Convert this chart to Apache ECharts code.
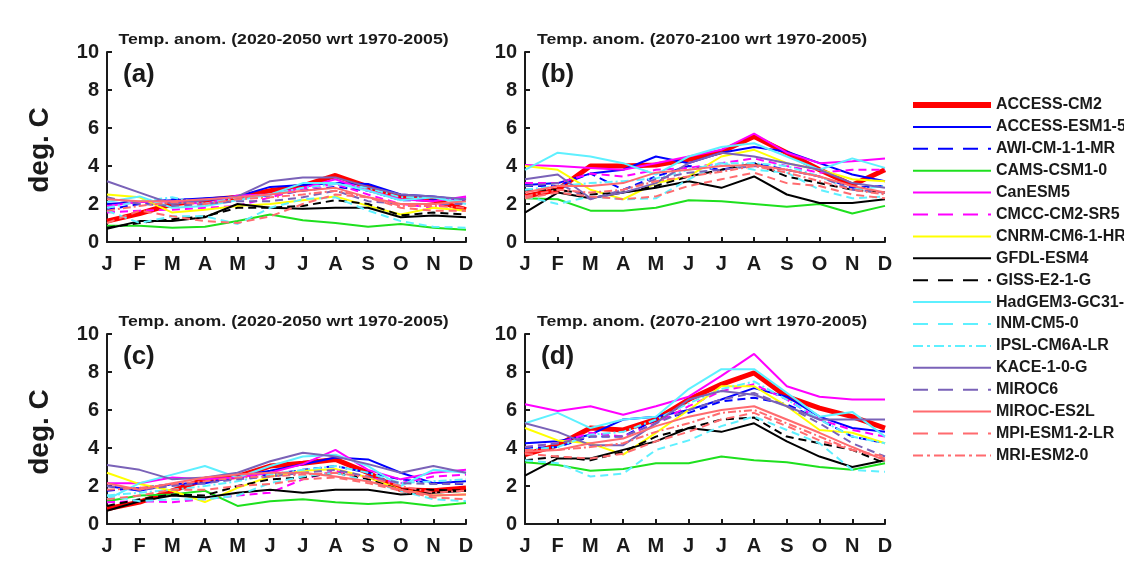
<!DOCTYPE html>
<html>
<head>
<meta charset="utf-8">
<script src="https://cdn.jsdelivr.net/npm/echarts@6/dist/echarts.min.js"></script>
<style>
  html, body { margin: 0; padding: 0; background: #fff; }
  #main { width: 1124px; height: 567px; }
</style>
</head>
<body>
<div id="main"></div>
<script>
// months (x axis)
var months = ["J","F","M","A","M","J","J","A","S","O","N","D"];
var yTicks = [0, 2, 4, 6, 8, 10];

// model names (legend order)
var models = ["ACCESS-CM2","ACCESS-ESM1-5","AWI-CM-1-1-MR","CAMS-CSM1-0","CanESM5","CMCC-CM2-SR5",
  "CNRM-CM6-1-HR","GFDL-ESM4","GISS-E2-1-G","HadGEM3-GC31-LL","INM-CM5-0","IPSL-CM6A-LR",
  "KACE-1-0-G","MIROC6","MIROC-ES2L","MPI-ESM1-2-LR","MRI-ESM2-0"];

// (a) 2020-2050, one row per model
var panelA = [
  [1.1,1.5,2.0,2.2,2.35,2.7,2.95,3.5,2.9,2.4,2.2,1.7],
  [2.0,2.1,2.2,2.3,2.4,2.9,3.0,3.1,3.05,2.5,2.4,2.2],
  [1.7,2.0,2.25,2.2,2.35,2.45,2.7,2.9,2.7,2.2,2.2,2.25],
  [0.85,0.85,0.75,0.8,1.1,1.45,1.15,1.0,0.8,0.95,0.75,0.65],
  [1.9,2.1,2.15,2.0,2.45,2.5,2.85,3.3,2.7,2.25,2.15,2.4],
  [1.55,1.65,1.7,1.8,1.9,2.35,2.8,3.05,2.5,2.0,1.8,2.35],
  [2.5,2.35,1.55,1.7,1.9,2.0,2.2,2.4,1.9,1.45,1.8,1.65],
  [0.7,1.1,1.1,1.3,2.0,1.8,1.75,1.8,1.8,1.3,1.4,1.3],
  [0.75,1.0,1.2,1.35,1.8,1.8,1.9,2.2,2.0,1.4,1.55,1.45],
  [2.1,2.4,1.8,1.9,2.2,2.5,3.1,3.1,2.7,2.2,2.35,2.0],
  [1.65,1.0,1.35,1.35,0.95,1.8,2.25,2.35,1.65,1.1,0.8,0.75],
  [1.8,2.15,2.35,2.0,2.35,2.5,2.85,3.05,2.85,2.35,2.35,2.15],
  [3.2,2.6,2.0,2.2,2.4,3.2,3.4,3.4,2.9,2.5,2.4,2.25],
  [2.35,2.0,1.9,2.0,2.15,2.15,2.35,2.7,2.15,2.0,2.0,2.0],
  [2.25,2.15,2.15,2.25,2.35,2.5,2.7,2.85,2.35,2.0,2.0,2.15],
  [1.0,1.65,1.35,1.1,1.0,1.35,2.0,2.5,2.35,1.8,1.65,1.65],
  [1.65,1.9,2.1,2.0,2.25,2.35,2.5,2.7,2.35,1.9,1.9,1.8]
];

// (b) 2070-2100
var panelB = [
  [2.4,2.75,4.0,4.0,4.05,4.35,4.75,5.55,4.7,3.8,3.0,3.8],
  [3.0,3.1,3.6,3.8,4.5,4.15,4.7,5.0,4.75,4.15,3.55,3.2],
  [2.95,2.95,3.6,2.75,3.45,4.0,3.8,4.15,3.8,3.45,2.85,2.95],
  [2.3,2.25,1.65,1.65,1.8,2.2,2.15,2.0,1.85,2.0,1.5,1.9],
  [4.05,4.0,3.9,3.8,4.15,4.5,4.85,5.7,4.7,4.15,4.25,4.4],
  [3.1,3.1,3.6,3.45,3.8,3.9,4.15,4.4,4.0,3.65,3.8,3.8],
  [4.0,3.8,2.75,2.25,3.1,3.45,4.5,4.85,4.15,3.8,3.3,3.2],
  [1.55,2.6,2.3,2.6,2.85,3.2,2.85,3.45,2.5,2.05,2.05,2.25],
  [2.75,2.75,2.5,2.6,2.95,3.45,3.8,4.15,3.45,3.1,2.75,2.6],
  [3.8,4.7,4.5,4.15,3.55,4.5,5.0,5.2,4.5,3.8,4.4,3.9],
  [2.4,2.0,2.4,2.25,2.3,3.3,4.15,3.8,3.65,2.75,2.3,2.4],
  [2.75,2.95,3.1,3.2,3.35,3.8,4.15,4.15,4.0,3.45,2.75,2.95],
  [3.3,3.55,2.3,2.6,3.1,4.15,4.7,4.5,4.15,3.8,3.1,2.85],
  [2.95,3.1,2.25,2.75,3.3,3.65,3.8,4.0,3.8,3.45,2.75,2.6],
  [2.6,2.95,2.95,3.1,3.65,3.8,4.0,4.05,3.8,3.45,2.95,2.6],
  [2.3,2.6,2.4,2.25,2.4,2.95,3.3,3.65,3.1,2.95,2.5,2.3],
  [2.4,2.75,2.6,2.75,3.2,3.45,3.7,4.0,3.65,3.2,2.75,2.5]
];

// (c) 2020-2050
var panelC = [
  [0.8,1.15,1.75,2.35,2.5,3.05,3.2,3.4,2.7,1.8,1.75,1.9],
  [2.0,1.75,2.1,2.15,2.5,2.8,3.15,3.5,3.4,2.7,2.15,2.25],
  [1.75,1.9,2.1,2.15,2.45,2.6,2.85,3.05,2.7,2.35,2.15,2.1],
  [1.2,1.5,1.55,1.75,0.95,1.2,1.3,1.15,1.05,1.15,0.95,1.1],
  [2.15,2.15,2.45,2.35,2.45,2.7,3.15,3.9,2.85,2.35,2.7,2.85],
  [1.15,1.2,1.15,1.3,1.5,1.65,2.35,2.8,2.45,2.15,2.5,2.6],
  [2.7,2.1,1.75,1.15,1.9,2.5,2.8,2.9,2.45,1.8,1.5,1.55],
  [0.7,1.2,1.5,1.4,1.65,1.8,1.65,1.8,1.8,1.55,1.65,1.75],
  [0.95,1.3,1.55,1.5,2.0,2.35,2.45,2.7,2.35,1.8,1.8,1.75],
  [1.3,2.15,2.6,3.05,2.45,3.05,3.55,3.65,3.05,2.0,2.85,2.7],
  [1.5,1.2,1.3,1.3,1.5,2.15,2.5,2.7,2.25,1.75,1.3,1.2],
  [1.5,1.65,1.8,2.0,2.25,2.6,2.85,3.05,2.7,2.15,2.25,2.35],
  [3.1,2.85,2.35,2.45,2.7,3.3,3.75,3.55,3.15,2.7,3.05,2.7],
  [2.0,1.8,2.0,2.15,2.35,2.5,2.7,2.85,2.5,2.15,2.1,2.15],
  [2.15,1.8,2.15,2.45,2.6,2.7,2.7,2.5,2.25,1.8,1.5,1.55],
  [1.3,1.5,1.8,1.8,2.0,2.1,2.35,2.45,2.15,1.75,1.4,1.3],
  [1.8,1.9,2.1,2.25,2.45,2.5,2.6,2.7,2.45,2.0,1.65,1.75]
];

// (d) 2070-2100
var panelD = [
  [3.65,4.15,5.05,4.95,5.5,6.55,7.35,7.95,6.7,6.1,5.65,5.05],
  [4.25,4.35,4.7,5.5,5.65,6.0,6.55,7.15,6.7,5.65,5.05,4.85],
  [4.0,4.05,4.6,4.6,5.5,5.85,6.45,6.65,6.3,5.5,4.6,4.25],
  [3.25,3.1,2.8,2.9,3.2,3.2,3.55,3.35,3.25,3.0,2.85,3.2],
  [6.3,5.95,6.2,5.75,6.2,6.7,7.8,8.95,7.25,6.7,6.55,6.55],
  [4.05,4.25,4.8,4.6,5.3,6.2,7.0,7.35,6.55,5.5,4.95,4.6],
  [5.05,4.4,4.25,3.65,4.8,6.0,7.25,7.25,6.2,4.95,4.8,4.25],
  [2.55,3.45,3.45,3.9,4.35,5.05,4.85,5.3,4.35,3.55,3.0,3.35],
  [3.35,3.55,3.35,3.8,4.6,5.05,5.5,5.6,4.6,4.25,3.9,3.2],
  [5.3,5.85,5.05,5.5,5.65,7.1,8.15,8.15,6.9,5.65,5.9,4.6],
  [3.35,3.2,2.5,2.65,3.9,4.4,5.15,5.65,4.95,4.25,2.85,2.75],
  [3.9,4.05,4.7,4.85,5.5,6.35,7.1,7.5,6.55,5.5,4.6,4.25],
  [5.3,4.85,4.15,4.15,5.3,6.55,7.0,6.8,6.2,5.5,5.5,5.5],
  [4.05,4.25,4.6,4.6,5.3,6.0,6.55,6.9,6.2,5.3,4.25,3.55],
  [3.8,3.9,4.25,4.5,5.15,5.65,6.0,6.2,5.5,4.8,4.05,3.35],
  [3.7,3.55,3.45,3.7,4.35,4.85,5.5,5.85,5.15,4.4,3.9,3.55],
  [3.9,3.9,4.05,4.25,4.85,5.3,5.85,6.0,5.3,4.6,3.9,3.45]
];

var titles = ["Temp. anom. (2020-2050 wrt 1970-2005)","Temp. anom. (2070-2100 wrt 1970-2005)",
  "Temp. anom. (2020-2050 wrt 1970-2005)","Temp. anom. (2070-2100 wrt 1970-2005)"];
var tags = ["(a)","(b)","(c)","(d)"];

// line look per model
var red = "#ff0000", blue = "#0000ff", green = "#1ee01e", mag = "#ff00ff", yel = "#ffff00",
    blk = "#000000", cyan = "#5ef0ff", purp = "#7a62b8", salm = "#ff6b6f";
var dash = [8, 5], dashDot = [8, 3, 2, 3];
var looks = [
  {c: red, t: "solid", w: 5},
  {c: blue, t: "solid", w: 2},
  {c: blue, t: dash, w: 2},
  {c: green, t: "solid", w: 2},
  {c: mag, t: "solid", w: 2},
  {c: mag, t: dash, w: 2},
  {c: yel, t: "solid", w: 2},
  {c: blk, t: "solid", w: 2},
  {c: blk, t: dash, w: 2},
  {c: cyan, t: "solid", w: 2},
  {c: cyan, t: dash, w: 2},
  {c: cyan, t: dashDot, w: 2},
  {c: purp, t: "solid", w: 2},
  {c: purp, t: dash, w: 2},
  {c: salm, t: "solid", w: 2},
  {c: salm, t: dash, w: 2},
  {c: salm, t: dashDot, w: 2}
];

var FONT = "'Liberation Sans', Arial, sans-serif";
var ink = "#1a1a1a";
var panels = [panelA, panelB, panelC, panelD];
var grids = [
  {left: 107, top: 52, width: 359, height: 190},
  {left: 525, top: 52, width: 360, height: 190},
  {left: 107, top: 334, width: 359, height: 190},
  {left: 525, top: 334, width: 360, height: 190}
];

var xAxes = [], yAxes = [], series = [], graphics = [];
grids.forEach(function (g, k) {
  xAxes.push({
    type: "category", gridIndex: k, data: months, boundaryGap: false,
    axisLine: {lineStyle: {color: ink, width: 2}},
    axisTick: {inside: true, length: 5, lineStyle: {color: ink, width: 2}},
    axisLabel: {color: ink, fontSize: 20, fontWeight: "bold", fontFamily: FONT, margin: 12, interval: 0},
    splitLine: {show: false}
  });
  yAxes.push({
    type: "value", gridIndex: k, min: yTicks[0], max: yTicks[yTicks.length - 1], interval: 2,
    axisLine: {show: true, lineStyle: {color: ink, width: 2}},
    axisTick: {show: true, inside: true, length: 5, lineStyle: {color: ink, width: 2}},
    axisLabel: {color: ink, fontSize: 20, fontWeight: "bold", fontFamily: FONT, margin: 8},
    splitLine: {show: false}
  });
  panels[k].forEach(function (vals, i) {
    var lk = looks[i];
    series.push({
      name: models[i], type: "line", xAxisIndex: k, yAxisIndex: k,
      data: vals, symbol: "none", silent: true,
      lineStyle: {color: lk.c, type: lk.t, width: lk.w},
      itemStyle: {color: lk.c}
    });
  });
  // panel title, stretched a little like the original
  graphics.push({
    type: "text", x: g.left + g.width / 2 - 3, y: g.top - 12, scaleX: 1.18,
    style: {text: titles[k], font: "bold 15px " + FONT, fill: ink, align: "center", verticalAlign: "middle"}
  });
  graphics.push({
    type: "text", x: g.left + 16, y: g.top + 23,
    style: {text: tags[k], font: "bold 26px " + FONT, fill: ink, align: "left", verticalAlign: "middle"}
  });
});

// y-axis name on left panels
[grids[0], grids[2]].forEach(function (g) {
  graphics.push({
    type: "text", x: 40, y: g.top + 98, rotation: Math.PI / 2,
    style: {text: "deg. C", font: "bold 28px " + FONT, fill: ink, align: "center", verticalAlign: "middle"}
  });
});

// legend entries: longer dashes in the key, thicker red bar
var legendData = models.map(function (m, i) {
  var lk = looks[i];
  var t = lk.t === dash ? [15, 10] : (lk.t === dashDot ? [10, 4, 3, 4] : "solid");
  return {name: m, lineStyle: {type: t, width: i === 0 ? 6 : 2}};
});

var chart = echarts.init(document.getElementById("main"));
chart.setOption({
  animation: false,
  backgroundColor: "#fff",
  grid: grids,
  xAxis: xAxes,
  yAxis: yAxes,
  legend: {
    data: legendData, orient: "vertical", left: 910, top: 97, padding: 0,
    itemWidth: 78, itemHeight: 14, itemGap: 5.9,
    itemStyle: {opacity: 0},
    lineStyle: {width: "inherit"},
    textStyle: {color: ink, fontSize: 16, fontWeight: "bold", fontFamily: FONT}
  },
  graphic: graphics,
  series: series
});
</script>
</body>
</html>
